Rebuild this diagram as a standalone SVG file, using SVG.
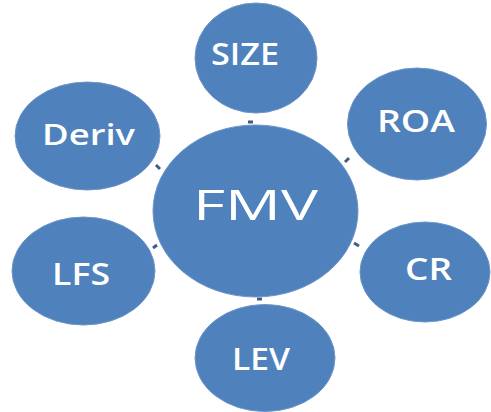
<svg xmlns="http://www.w3.org/2000/svg" width="491" height="412" viewBox="0 0 491 412">
  <style>
    .bubble { fill: #4f81bd; stroke: #6d95c8; stroke-width: 1; }
    .label { fill: #ffffff; font-family: "Open Sans", "Liberation Sans", sans-serif; text-anchor: middle; font-weight: 600; }
    .hub { font-weight: 500; }
    .tick { stroke: #3c5f8a; stroke-width: 3; stroke-linecap: butt; }
  </style>
  <rect width="491" height="412" fill="#ffffff"/>

  <!-- short connector stubs between the hub and each satellite -->
  <g id="connectors">
    <line class="tick" x1="248" y1="122" x2="253" y2="122"/>
    <line class="tick" x1="156" y1="165" x2="160" y2="169"/>
    <line class="tick" x1="345" y1="162" x2="349" y2="158"/>
    <line class="tick" x1="153" y1="248" x2="157" y2="245"/>
    <line class="tick" x1="354" y1="243" x2="359" y2="246"/>
    <line class="tick" x1="257" y1="299" x2="262" y2="299"/>
  </g>

  <g id="fmv">
    <ellipse class="bubble" cx="255.5" cy="211" rx="102.5" ry="86"/>
    <text class="label hub" x="255.5" y="220" font-size="42" textLength="125" lengthAdjust="spacingAndGlyphs">FMV</text>
  </g>
  <g id="size">
    <ellipse class="bubble" cx="256" cy="58" rx="61" ry="55"/>
    <text class="label" x="245" y="65" font-size="30" textLength="68" lengthAdjust="spacingAndGlyphs">SIZE</text>
  </g>
  <g id="deriv">
    <ellipse class="bubble" cx="87.5" cy="136" rx="72.5" ry="54"/>
    <text class="label" x="88.5" y="145" font-size="28" textLength="93" lengthAdjust="spacingAndGlyphs">Deriv</text>
  </g>
  <g id="roa">
    <ellipse class="bubble" cx="417" cy="124" rx="69.5" ry="56"/>
    <text class="label" x="416" y="132" font-size="30" textLength="78" lengthAdjust="spacingAndGlyphs">ROA</text>
  </g>
  <g id="lfs">
    <ellipse class="bubble" cx="83.5" cy="271" rx="71.5" ry="54"/>
    <text class="label" x="81" y="285" font-size="30" textLength="58" lengthAdjust="spacingAndGlyphs">LFS</text>
  </g>
  <g id="cr">
    <ellipse class="bubble" cx="425" cy="272" rx="65" ry="50"/>
    <text class="label" x="428.5" y="280" font-size="30" textLength="47" lengthAdjust="spacingAndGlyphs">CR</text>
  </g>
  <g id="lev">
    <ellipse class="bubble" cx="265" cy="358" rx="70" ry="53.5"/>
    <text class="label" x="261" y="370" font-size="30" textLength="58" lengthAdjust="spacingAndGlyphs">LEV</text>
  </g>
</svg>
